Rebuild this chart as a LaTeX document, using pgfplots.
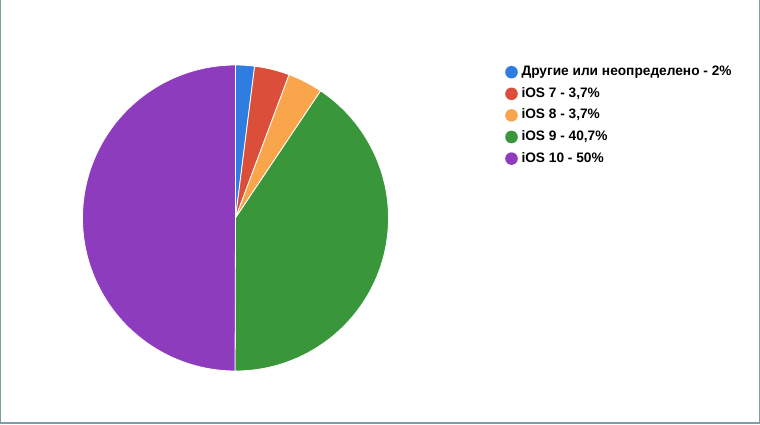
\documentclass[border=0pt]{standalone}
\usepackage{pgfplots}
\pgfplotsset{compat=1.18}
\usepackage{fontspec}
\setmainfont{Liberation Sans}
\definecolor{cblue}{HTML}{2F7DE1}
\definecolor{cred}{HTML}{DB4E3A}
\definecolor{corange}{HTML}{F9A54B}
\definecolor{cgreen}{HTML}{39963B}
\definecolor{cpurple}{HTML}{8E3CBE}
\definecolor{bordercol}{HTML}{7E9EA6}
\begin{document}
\begin{tikzpicture}
\begin{axis}[
  at={(0,0)}, anchor=south west,
  scale only axis, width=760pt, height=424pt,
  xmin=0, xmax=760, ymin=0, ymax=424,
  hide axis,
  legend cell align=left,
  legend style={draw=none, fill=none, inner sep=0pt, at={(axis cs:505,360)}, anchor=north west,
    font=\bfseries\fontsize{13.7}{16}\selectfont, row sep=5.6pt,
    nodes={inner sep=1pt, text height=10.5pt, text depth=3.5pt}},
  legend image code/.code={\fill[#1,draw=none] (6pt,0pt) circle (6.3pt); \path[draw=none,fill=none] (0pt,0pt) -- (15pt,0pt);},
]
% slices: cumulative percentages (total 100.1), clockwise from 12 o'clock
\addplot[fill=cblue, draw=white, line width=0.8pt, domain=0:2, samples=10]
  ({235.5+153*sin(360*x/100.1)},{206+153*cos(360*x/100.1)}) -- (axis cs:235.5,206) -- cycle;
\addlegendentry{Другие или неопределено - 2\%}
\addplot[fill=cred, draw=white, line width=0.8pt, domain=2:5.7, samples=15]
  ({235.5+153*sin(360*x/100.1)},{206+153*cos(360*x/100.1)}) -- (axis cs:235.5,206) -- cycle;
\addlegendentry{iOS 7 - 3,7\%}
\addplot[fill=corange, draw=white, line width=0.8pt, domain=5.7:9.4, samples=15]
  ({235.5+153*sin(360*x/100.1)},{206+153*cos(360*x/100.1)}) -- (axis cs:235.5,206) -- cycle;
\addlegendentry{iOS 8 - 3,7\%}
\addplot[fill=cgreen, draw=white, line width=0.8pt, domain=9.4:50.1, samples=120]
  ({235.5+153*sin(360*x/100.1)},{206+153*cos(360*x/100.1)}) -- (axis cs:235.5,206) -- cycle;
\addlegendentry{iOS 9 - 40,7\%}
\addplot[fill=cpurple, draw=white, line width=0.8pt, domain=50.1:100.1, samples=150]
  ({235.5+153*sin(360*x/100.1)},{206+153*cos(360*x/100.1)}) -- (axis cs:235.5,206) -- cycle;
\addlegendentry{iOS 10 - 50\%}
% frame
\fill[bordercol] (axis cs:0,0) rectangle (axis cs:1.2,424);
\fill[bordercol] (axis cs:0,0) rectangle (axis cs:760,2);
\fill[bordercol] (axis cs:758.8,0) rectangle (axis cs:760,424);
\end{axis}
\path (0,0) rectangle (760pt,424pt);
\end{tikzpicture}
\end{document}
